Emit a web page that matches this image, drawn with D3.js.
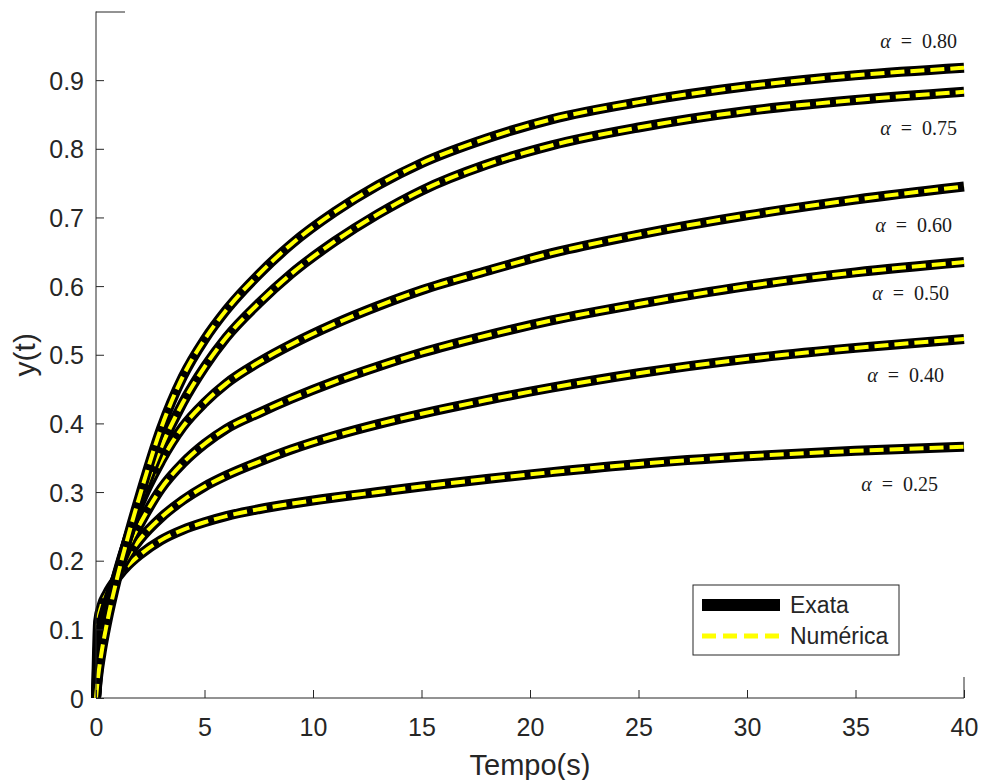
<!DOCTYPE html>
<html>
<head>
<meta charset="utf-8">
<script src="https://cdn.jsdelivr.net/npm/d3@7"></script>
<style>
body { margin: 0; background: #fff; }
</style>
</head>
<body>
<svg id="chart" width="982" height="780"></svg>
<script>
var tempo = [0, 0.1, 0.25, 0.5, 1, 1.5, 2, 3, 4, 5, 6, 7.5, 9, 11, 13, 15, 18, 21, 25, 30, 35, 40];

var y025 = [0, 0.112, 0.134, 0.152, 0.176, 0.194, 0.208, 0.23, 0.245, 0.256, 0.265, 0.275, 0.283, 0.292, 0.3, 0.308, 0.319, 0.329, 0.341, 0.352, 0.36, 0.366];
var y040 = [0, 0.078, 0.108, 0.138, 0.18, 0.208, 0.23, 0.263, 0.288, 0.308, 0.324, 0.344, 0.362, 0.382, 0.399, 0.414, 0.434, 0.452, 0.473, 0.494, 0.51, 0.523];
var y050 = [0, 0.06, 0.095, 0.13, 0.183, 0.222, 0.252, 0.305, 0.342, 0.37, 0.392, 0.415, 0.436, 0.461, 0.483, 0.503, 0.528, 0.55, 0.574, 0.6, 0.62, 0.635];
var y060 = [0, 0.045, 0.08, 0.122, 0.185, 0.236, 0.28, 0.345, 0.395, 0.43, 0.458, 0.489, 0.515, 0.545, 0.571, 0.594, 0.622, 0.648, 0.675, 0.703, 0.726, 0.745];
var y075 = [0, 0.038, 0.072, 0.115, 0.182, 0.236, 0.283, 0.365, 0.43, 0.482, 0.525, 0.575, 0.618, 0.665, 0.705, 0.739, 0.777, 0.805, 0.831, 0.855, 0.871, 0.883];
var y080 = [0, 0.032, 0.065, 0.108, 0.178, 0.238, 0.293, 0.393, 0.468, 0.522, 0.565, 0.617, 0.661, 0.708, 0.747, 0.779, 0.815, 0.843, 0.868, 0.891, 0.907, 0.918];

var alphaLabels = ["\u03B1 = 0.25", "\u03B1 = 0.40", "\u03B1 = 0.50", "\u03B1 = 0.60", "\u03B1 = 0.75", "\u03B1 = 0.80"];
var seriesValues = [y025, y040, y050, y060, y075, y080];

var xTicks = [0, 5, 10, 15, 20, 25, 30, 35, 40];
var yTicks = [0, 0.1, 0.2, 0.3, 0.4, 0.5, 0.6, 0.7, 0.8, 0.9];
var legendNames = ["Exata", "Num\u00E9rica"];

var svg = d3.select("#chart");
var pLeft = 96, pRight = 964, pTop = 11.5, pBottom = 698;
var axisColor = "#262626";
var sansFont = "'Liberation Sans', Arial, sans-serif";

var x = d3.scaleLinear().domain([0, 40]).range([pLeft, pRight]);
var y = d3.scaleLinear().domain([0, 1]).range([pBottom, pTop]);

var line = d3.line()
    .x(function(d) { return x(d[0]); })
    .y(function(d) { return y(d[1]); })
    .curve(d3.curveMonotoneX);

// curves: exact (black, wide) with numeric (yellow dashed) on top
var curves = svg.append("g");
seriesValues.forEach(function(vals) {
    var pts = tempo.map(function(t, i) { return [t, vals[i]]; });
    curves.append("path")
        .attr("d", line(pts))
        .attr("fill", "none")
        .attr("stroke", "#000")
        .attr("stroke-width", 10)
        .attr("stroke-linejoin", "round");
    curves.append("path")
        .attr("d", line(pts))
        .attr("fill", "none")
        .attr("stroke", "#ffff00")
        .attr("stroke-width", 4)
        .attr("stroke-dasharray", "14,6");
});

// axes (box off, left + bottom)
var xAxis = d3.axisBottom(x).tickValues(xTicks).tickSize(-8).tickPadding(20)
    .tickFormat(d3.format("d"));
var yAxis = d3.axisLeft(y).tickValues(yTicks).tickSize(-8).tickPadding(12)
    .tickFormat(function(d) { return d === 0 ? "0" : d3.format(".1f")(d); });

var gx = svg.append("g").attr("transform", "translate(0," + pBottom + ")").call(xAxis);
var gy = svg.append("g").attr("transform", "translate(" + pLeft + ",0)").call(yAxis);
[gx, gy].forEach(function(g) {
    g.select(".domain").attr("stroke", axisColor);
    g.selectAll(".tick line").attr("stroke", axisColor);
    g.selectAll(".tick text")
        .style("font-family", sansFont)
        .style("font-size", "25px")
        .attr("fill", axisColor);
});
gy.selectAll(".tick text").attr("dy", "0.36em");
gy.select(".domain").attr("d", "M0," + pBottom + "V" + pTop);
gx.select(".domain").attr("d", "M" + pLeft + ",0H" + pRight);

// bits of the box that remain
svg.append("line").attr("x1", pLeft).attr("x2", pLeft + 29).attr("y1", 12).attr("y2", 12)
    .attr("stroke", axisColor);
svg.append("line").attr("x1", pRight).attr("x2", pRight).attr("y1", pBottom - 21).attr("y2", pBottom)
    .attr("stroke", axisColor);

svg.append("text")
    .attr("x", (pLeft + pRight) / 2).attr("y", 775)
    .attr("text-anchor", "middle")
    .style("font-family", sansFont).style("font-size", "29px").attr("fill", axisColor)
    .text("Tempo(s)");
svg.append("text")
    .attr("transform", "translate(35," + ((pTop + pBottom) / 2) + ") rotate(-90)")
    .attr("text-anchor", "middle")
    .style("font-family", sansFont).style("font-size", "30px").attr("fill", axisColor)
    .text("y(t)");

// alpha labels (right-aligned near the end of each curve)
var labelPos = [[938, 491], [944, 382], [949, 300], [952, 232], [957, 135], [957, 48]];
alphaLabels.forEach(function(lbl, i) {
    var parts = lbl.split(" = ");
    var t = svg.append("text")
        .attr("x", labelPos[i][0]).attr("y", labelPos[i][1])
        .attr("text-anchor", "end")
        .style("font-family", "'Liberation Serif', 'DejaVu Serif', serif")
        .style("font-size", "20px")
        .attr("fill", "#1a1a1a");
    t.append("tspan").style("font-style", "italic").text(parts[0]);
    t.append("tspan").text("\u2002=\u2002" + parts[1]);
});

// legend
var lg = svg.append("g").attr("transform", "translate(693,585)");
lg.append("rect").attr("width", 206).attr("height", 70)
    .attr("fill", "#fff").attr("stroke", axisColor);
lg.append("line").attr("x1", 9).attr("x2", 87).attr("y1", 20).attr("y2", 20)
    .attr("stroke", "#000").attr("stroke-width", 12);
lg.append("line").attr("x1", 9).attr("x2", 87).attr("y1", 51).attr("y2", 51)
    .attr("stroke", "#ffff00").attr("stroke-width", 5).attr("stroke-dasharray", "14,7");
legendNames.forEach(function(n, i) {
    lg.append("text").attr("x", 97).attr("y", 20 + i * 31).attr("dy", "0.35em")
        .style("font-family", sansFont).style("font-size", "23px").attr("fill", axisColor)
        .text(n);
});
</script>
</body>
</html>
